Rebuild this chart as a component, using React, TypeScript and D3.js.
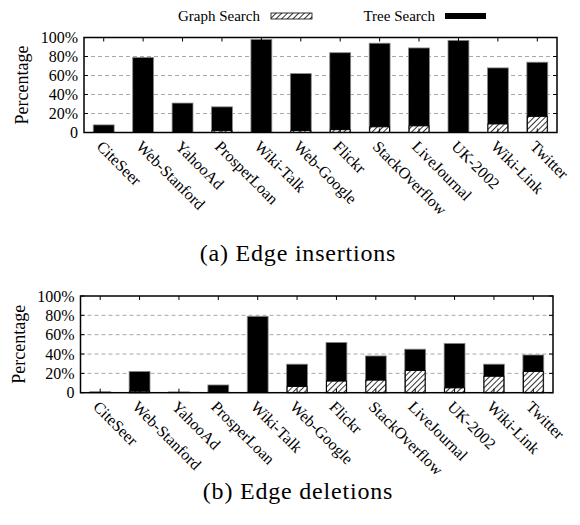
import * as d3 from 'd3';

const categories = ['CiteSeer', 'Web-Stanford', 'YahooAd', 'ProsperLoan', 'Wiki-Talk', 'Web-Google', 'Flickr', 'StackOverflow', 'LiveJournal', 'UK-2002', 'Wiki-Link', 'Twitter'];
// edge insertions (percent)
const insertTree = [8, 79, 31, 27, 98, 62, 84, 94, 89, 97, 68, 74];
const insertGraph = [0, 0, 0, 2, 0, 2, 3, 6, 7, 0, 9, 17];
// edge deletions (percent)
const deleteTree = [1, 22, 0.8, 8, 79, 29.5, 52, 38, 45, 51, 29.5, 39];
const deleteGraph = [0, 1.5, 0, 0, 0, 6.5, 12, 13, 23, 5, 17, 22];

const yTicks = [0, 20, 40, 60, 80, 100];
const yTickLabels = ['0', '20%', '40%', '60%', '80%', '100%'];

const FONT = '"Liberation Serif", "Times New Roman", serif';

function Panel({ tree, graph, left, right, top, bottom, caption, captionY }) {
    const xScale = d3.scaleBand()
        .range([left, right])
        .domain(categories)
        .paddingInner(0.47)
        .paddingOuter(0.235);
    const yScale = d3.scaleLinear()
        .range([bottom, top])
        .domain([0, 100]);
    const bw = xScale.bandwidth();
    const center = (c) => xScale(c) + bw / 2;

    return (
        <g>
            {/* gridlines */}
            {yTicks.slice(1, -1).map(t => (
                <line key={'g' + t} x1={left} x2={right} y1={yScale(t)} y2={yScale(t)}
                    stroke="#a8a8a8" strokeWidth={1} strokeDasharray="4,3" />
            ))}
            {/* bars */}
            {categories.map((c, i) => (
                <g key={c}>
                    <rect x={xScale(c)} y={yScale(tree[i])} width={bw}
                        height={yScale(0) - yScale(tree[i])} fill="#000" stroke="#8a8a8a" strokeWidth={0.8} />
                    {graph[i] > 0 && (
                        <rect x={xScale(c) + 0.5} y={yScale(graph[i])} width={bw - 1}
                            height={yScale(0) - yScale(graph[i])} fill="url(#hatch)" stroke="#000" strokeWidth={1} />
                    )}
                </g>
            ))}
            {/* y ticks + labels */}
            {yTicks.map((t, i) => (
                <g key={'y' + t}>
                    <line x1={left} x2={left + 4} y1={yScale(t)} y2={yScale(t)} stroke="#000" />
                    <line x1={right - 4} x2={right} y1={yScale(t)} y2={yScale(t)} stroke="#000" />
                    <text x={left - 6} y={yScale(t)} dy="0.35em" textAnchor="end"
                        fontFamily={FONT} fontSize={16}>{yTickLabels[i]}</text>
                </g>
            ))}
            {/* x ticks + labels */}
            {categories.map(c => (
                <g key={'x' + c}>
                    <line x1={center(c)} x2={center(c)} y1={bottom} y2={bottom - 4} stroke="#000" />
                    <line x1={center(c)} x2={center(c)} y1={top} y2={top + 4} stroke="#000" />
                    <text transform={`translate(${center(c) - 8},${bottom + 15}) rotate(45)`}
                        fontFamily={FONT} fontSize={16}>{c}</text>
                </g>
            ))}
            <rect x={left} y={top} width={right - left} height={bottom - top}
                fill="none" stroke="#000" strokeWidth={1.5} />
            <text transform={`translate(${left - 56},${(top + bottom) / 2}) rotate(-90)`}
                textAnchor="middle" fontFamily={FONT} fontSize={18}>Percentage</text>
            <text x={298} y={captionY} textAnchor="middle" fontFamily={FONT} fontSize={24}
                letterSpacing={0.8}>{caption}</text>
        </g>
    );
}

export default function App() {
    const width = 580;
    const height = 525;
    return (
        <svg width={width} height={height} style={{ position: 'absolute', left: 0, top: 0, background: '#fff' }}>
            <defs>
                <pattern id="hatch" patternUnits="userSpaceOnUse" width={4} height={4}
                    patternTransform="rotate(45)">
                    <rect width={4} height={4} fill="#fff" />
                    <line x1={0} y1={0} x2={0} y2={4} stroke="#000" strokeWidth={1.6} />
                </pattern>
            </defs>
            <rect width={width} height={height} fill="#fff" />
            {/* legend */}
            <text x={260} y={16} dy="0.35em" textAnchor="end" fontFamily={FONT} fontSize={15}>Graph Search</text>
            <rect x={271} y={13} width={41} height={6} fill="url(#hatch)" stroke="#000" strokeWidth={0.8} />
            <text x={435} y={16} dy="0.35em" textAnchor="end" fontFamily={FONT} fontSize={15}>Tree Search</text>
            <rect x={445} y={13} width={41} height={6} fill="#000" />

            <Panel tree={insertTree} graph={insertGraph} left={84} right={557} top={37.5} bottom={132.5}
                caption="(a) Edge insertions" captionY={261} />
            <Panel tree={deleteTree} graph={deleteGraph} left={80.5} right={553} top={296} bottom={392.7}
                caption="(b) Edge deletions" captionY={499} />
        </svg>
    );
}
